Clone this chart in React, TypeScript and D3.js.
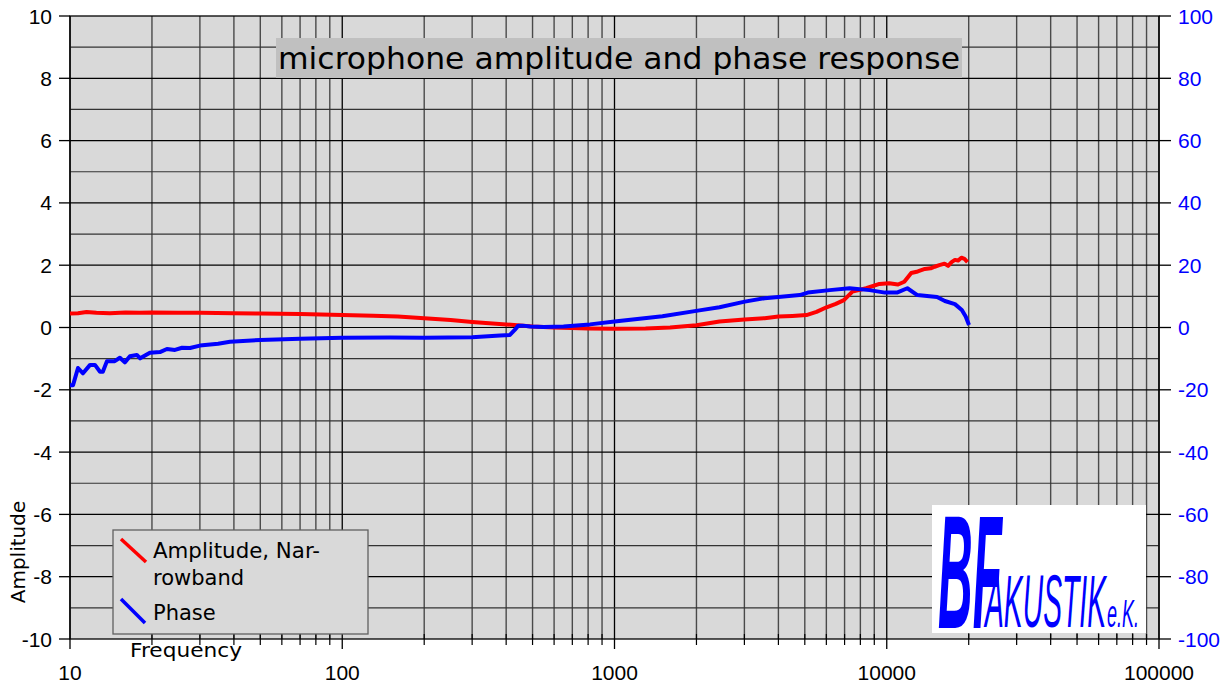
import * as d3 from 'd3';

const MARGIN = { top: 16, right: 67, bottom: 48, left: 70 };
const WIDTH = 1226;
const HEIGHT = 687;

const TITLE = 'microphone amplitude and phase response';
const xTicks = [10, 100, 1000, 10000, 100000];
const leftTicks = [-10, -8, -6, -4, -2, 0, 2, 4, 6, 8, 10];
const rightTicks = [-100, -80, -60, -40, -20, 0, 20, 40, 60, 80, 100];

// amplitude (red, left axis)
const ampFreq = [10, 10.7, 11.5, 12.5, 14, 16, 18, 20, 25, 30, 40, 50, 70, 100, 130, 160, 200, 250, 300, 400, 500, 600, 800, 1000, 1300, 1600, 2000, 2430, 3000, 3560, 4000, 4500, 5070, 5520, 6010, 6500, 6960, 7480, 8400, 9400, 10200, 11000, 11600, 12300, 13000, 13800, 14500, 15000, 15600, 16300, 16800, 17300, 17800, 18300, 18800, 19300, 19800];
const ampValues = [0.45, 0.46, 0.5, 0.47, 0.46, 0.48, 0.47, 0.48, 0.47, 0.47, 0.46, 0.45, 0.43, 0.4, 0.38, 0.35, 0.3, 0.24, 0.18, 0.1, 0.03, 0.0, -0.03, -0.04, -0.03, 0.0, 0.07, 0.19, 0.26, 0.3, 0.35, 0.37, 0.4, 0.5, 0.65, 0.76, 0.88, 1.15, 1.26, 1.4, 1.42, 1.38, 1.47, 1.75, 1.8, 1.88, 1.9, 1.95, 2.0, 2.05, 1.98, 2.1, 2.17, 2.15, 2.24, 2.2, 2.1];

// phase (blue, right axis)
const phaseFreq = [10, 10.26, 10.7, 11.16, 11.85, 12.35, 12.89, 13.2, 13.67, 14.6, 15.25, 15.9, 16.6, 17.6, 18.1, 19.66, 21.4, 22.7, 24.3, 25.8, 27.6, 30, 35, 38.7, 50, 70, 100, 150, 200, 300, 380, 413, 430, 443, 460, 490, 550, 650, 813, 1000, 1500, 2050, 2430, 3010, 3560, 4000, 4790, 5130, 6170, 7300, 8650, 9850, 10900, 11900, 12950, 14060, 15300, 16350, 17800, 18870, 19500, 20050];
const phaseValues = [-18.5, -18.5, -13, -14.7, -12, -12, -14.2, -14.2, -10.8, -10.8, -9.7, -11.2, -9.2, -8.8, -9.9, -8.1, -7.9, -6.9, -7.2, -6.5, -6.6, -5.8, -5.2, -4.6, -4.0, -3.6, -3.3, -3.2, -3.3, -3.1, -2.6, -2.4, -0.8, 0.6, 0.6, 0.3, 0.2, 0.3, 1.0, 1.9, 3.6, 5.5, 6.5, 8.3, 9.4, 9.8, 10.4, 11.2, 12.0, 12.6, 12.0, 11.2, 11.2, 12.6, 10.4, 10.1, 9.8, 8.5, 7.5, 5.6, 3.5, 0.8];

const LABEL_FONT = '"Liberation Sans", Arial, sans-serif';
const TEXT_FONT = '"DejaVu Sans", Verdana, sans-serif';

const App = () => {
    const x0 = MARGIN.left;
    const x1 = WIDTH - MARGIN.right;
    const y0 = MARGIN.top;
    const y1 = HEIGHT - MARGIN.bottom;

    const xScale = d3.scaleLog().domain([10, 100000]).range([x0, x1]);
    const yLeft = d3.scaleLinear().domain([-10, 10]).range([y1, y0]);
    const yRight = d3.scaleLinear().domain([-100, 100]).range([y1, y0]);

    // minor log positions 2..9 in each decade
    const minorX: number[] = [];
    for (let dec = 10; dec < 100000; dec *= 10) {
        for (let k = 2; k <= 9; k++) minorX.push(dec * k);
    }
    const gridY = d3.range(-9, 10);

    const ampLine = d3
        .line<number>()
        .x((_, i) => xScale(ampFreq[i]))
        .y((v) => yLeft(v));
    const phaseLine = d3
        .line<number>()
        .x((_, i) => xScale(phaseFreq[i]))
        .y((v) => yRight(v));

    return (
        <svg width={WIDTH} height={HEIGHT} style={{ position: 'absolute', left: 0, top: 0 }}>
            <rect x={0} y={0} width={WIDTH} height={HEIGHT} fill="#ffffff" />
            <rect x={x0} y={y0} width={x1 - x0} height={y1 - y0} fill="#d9d9d9" />

            {/* grid */}
            {minorX.map((f, i) => (
                <line key={'vx' + i} x1={xScale(f)} x2={xScale(f)} y1={y0} y2={y1} stroke="#4a4a4a" strokeWidth={1.4} />
            ))}
            {xTicks.map((f, i) => (
                <line key={'vX' + i} x1={xScale(f)} x2={xScale(f)} y1={y0} y2={y1} stroke="#000" strokeWidth={1.3} />
            ))}
            {gridY.map((v, i) => (
                <line key={'hy' + i} x1={x0} x2={x1} y1={yLeft(v)} y2={yLeft(v)} stroke={v % 2 === 0 ? '#000' : '#333'} strokeWidth={1.2} />
            ))}

            {/* frame and axes */}
            <rect x={x0} y={y0} width={x1 - x0} height={y1 - y0} fill="none" stroke="#000" strokeWidth={1.3} />
            {leftTicks.map((v, i) => (
                <g key={'lt' + i}>
                    <line x1={x0 - 11} x2={x0} y1={yLeft(v)} y2={yLeft(v)} stroke="#000" strokeWidth={1.3} />
                    <text x={x0 - 18} y={yLeft(v)} dy="0.36em" textAnchor="end" fontSize={21} fontFamily={LABEL_FONT} fill="#000">
                        {v}
                    </text>
                </g>
            ))}
            {rightTicks.map((v, i) => (
                <g key={'rt' + i}>
                    <line x1={x1} x2={x1 + 12} y1={yRight(v)} y2={yRight(v)} stroke="#000" strokeWidth={1.3} />
                    <text x={x1 + 19} y={yRight(v)} dy="0.36em" textAnchor="start" fontSize={21} fontFamily={LABEL_FONT} fill="#0000ff">
                        {v}
                    </text>
                </g>
            ))}
            {minorX.map((f, i) => (
                <line key={'mt' + i} x1={xScale(f)} x2={xScale(f)} y1={y1 - 5} y2={y1 + 6} stroke="#000" strokeWidth={1.2} />
            ))}
            {xTicks.map((f, i) => (
                <g key={'xt' + i}>
                    <line x1={xScale(f)} x2={xScale(f)} y1={y1} y2={y1 + 10} stroke="#000" strokeWidth={1.3} />
                    <text x={xScale(f)} y={680} textAnchor="middle" fontSize={21} fontFamily={LABEL_FONT} fill="#000">
                        {f}
                    </text>
                </g>
            ))}

            {/* curves */}
            <path d={ampLine(ampValues) ?? ''} fill="none" stroke="#ff0000" strokeWidth={4} strokeLinejoin="round" />
            <path d={phaseLine(phaseValues) ?? ''} fill="none" stroke="#0000ff" strokeWidth={4} strokeLinejoin="round" />

            {/* title */}
            <rect x={276} y={38} width={686} height={40} fill="#c0c0c0" />
            <text x={278} y={69} fontSize={31} fontFamily={TEXT_FONT} fill="#000" textLength={682} lengthAdjust="spacingAndGlyphs">
                {TITLE}
            </text>

            {/* legend */}
            <rect x={113} y={530} width={255} height={104} fill="#d9d9d9" stroke="#606060" strokeWidth={1.3} />
            <line x1={121} y1={539} x2={146} y2={562} stroke="#ff0000" strokeWidth={3.5} />
            <text x={153} y={558} fontSize={21} fontFamily={TEXT_FONT} fill="#000" textLength={167} lengthAdjust="spacingAndGlyphs">Amplitude, Nar-</text>
            <text x={153} y={585} fontSize={21} fontFamily={TEXT_FONT} fill="#000">rowband</text>
            <line x1={121} y1={599} x2={145} y2={623} stroke="#0000ff" strokeWidth={3.5} />
            <text x={153} y={620} fontSize={21} fontFamily={TEXT_FONT} fill="#000">Phase</text>

            {/* axis titles */}
            <text x={130} y={657} fontSize={20} fontFamily={TEXT_FONT} fill="#000" textLength={112} lengthAdjust="spacingAndGlyphs">Frequency</text>
            <text transform="translate(25,552) rotate(-90)" textAnchor="middle" fontSize={20} fontFamily={TEXT_FONT} fill="#000">
                Amplitude
            </text>

            {/* logo */}
            <rect x={932} y={505} width={214} height={128} fill="#ffffff" />
            <text x={938} y={628} fontSize={162} fontWeight="bold" fontStyle="italic" fontFamily={LABEL_FONT} fill="#0000ff" textLength={64} lengthAdjust="spacingAndGlyphs">
                BF
            </text>
            <text x={985} y={627} fontSize={74} fontStyle="italic" fontFamily={LABEL_FONT} fill="#0000ff" textLength={121} lengthAdjust="spacingAndGlyphs">
                AKUSTIK
            </text>
            <text x={1107} y={627} fontSize={38} fontStyle="italic" fontFamily={LABEL_FONT} fill="#0000ff" textLength={32} lengthAdjust="spacingAndGlyphs">
                e.K.
            </text>
        </svg>
    );
};

export default App;
